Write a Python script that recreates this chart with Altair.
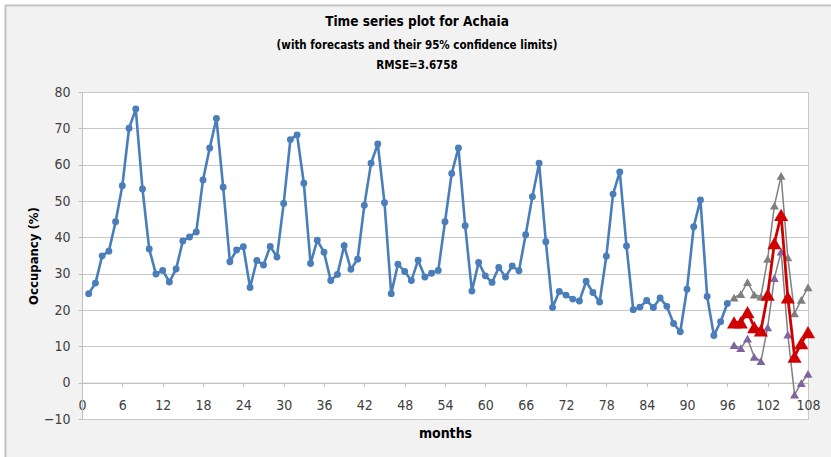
import altair as alt
import pandas as pd

# Observed monthly occupancy (%) for months 1..96
months_obs = list(range(1, 97))
occupancy = [
    24.5, 27.4, 34.9, 36.2, 44.3, 54.2, 70.0, 75.3, 53.3, 36.8, 29.9, 30.9,
    27.7, 31.3, 39.0, 40.1, 41.5, 55.8, 64.6, 72.7, 53.8, 33.3, 36.5, 37.4,
    26.2, 33.6, 32.4, 37.5, 34.6, 49.3, 66.9, 68.2, 54.9, 32.8, 39.2, 35.9,
    28.1, 29.8, 37.7, 31.2, 34.0, 48.8, 60.4, 65.7, 49.5, 24.5, 32.6, 30.6,
    28.1, 33.7, 29.1, 30.1, 30.9, 44.3, 57.6, 64.6, 43.2, 25.2, 33.1, 29.4,
    27.6, 31.7, 29.1, 32.1, 30.8, 40.7, 51.2, 60.4, 38.8, 20.7, 25.1, 24.1,
    23.0, 22.5, 27.9, 24.8, 22.2, 34.8, 51.9, 58.0, 37.6, 20.1, 20.8, 22.6,
    20.7, 23.3, 21.0, 16.3, 14.0, 25.7, 42.9, 50.3, 23.7, 13.0, 16.8, 21.8,
]

# Forecasts for months 97..108 with their 95% confidence limits
months_fc = list(range(97, 109))
forecast = [16.6, 16.6, 19.4, 15.3, 14.4, 24.2, 38.4, 46.2, 23.5, 7.2, 10.9, 13.9]
upper = [23.4, 24.4, 27.7, 24.2, 23.7, 34.1, 48.7, 56.9, 34.5, 19.1, 22.8, 26.2]
lower = [10.3, 9.5, 12.1, 7.1, 5.9, 15.2, 28.8, 36.1, 13.2, -3.3, -0.1, 2.4]

x_ticks = list(range(0, 109, 6))
y_ticks = list(range(-10, 81, 10))

title_lines = [
    "Time series plot for Achaia",
    "(with forecasts and their 95% confidence limits)",
    "RMSE=3.6758",
]

obs_df = pd.DataFrame({"month": months_obs, "value": occupancy})
fc_df = pd.DataFrame({"month": months_fc, "value": forecast})
up_df = pd.DataFrame({"month": months_fc, "value": upper})
lo_df = pd.DataFrame({"month": months_fc, "value": lower})

FONT = "Liberation Sans Narrow, Arial Narrow, DejaVu Sans Condensed, sans-serif"
W, H = 726, 327
PAD_L, PAD_T, PAD_R, PAD_B = 82, 92, 23, 38

x_enc = alt.X(
    "month:Q",
    scale=alt.Scale(domain=[0, 108], nice=False, zero=False),
    axis=alt.Axis(
        values=x_ticks, title="months", grid=False, offset=-36.33,
        tickSize=4, tickColor="#bfbfbf", domainColor="#bfbfbf",
        labelPadding=12, labelFontSize=14, labelColor="#404040", labelFont=FONT,
        titleFont=FONT, titleFontSize=14, titleFontWeight="bold", titleColor="#000000",
        titlePadding=14, labelFlush=False,
    ),
)
y_enc = alt.Y(
    "value:Q",
    scale=alt.Scale(domain=[-10, 80], nice=False, zero=False),
    axis=alt.Axis(
        values=y_ticks, title="Occupancy (%)", grid=True, gridColor="#c8c8c8",
        tickSize=4, tickColor="#bfbfbf", domainColor="#bfbfbf",
        labelPadding=8, labelFontSize=14, labelColor="#404040", labelFont=FONT,
        titleFont=FONT, titleFontSize=13, titleFontWeight="bold", titleColor="#000000",
        titlePadding=3,
    ),
)

observed = alt.Chart(obs_df).mark_line(
    color="#4a7ebb", strokeWidth=2.6,
    point=alt.OverlayMarkDef(shape="circle", size=48, filled=True, color="#4a7ebb"),
).encode(x=x_enc, y=y_enc)

upper_line = alt.Chart(up_df).mark_line(
    color="#808080", strokeWidth=1.5,
    point=alt.OverlayMarkDef(shape="triangle-up", size=80, filled=True, color="#7f7f7f"),
).encode(x=x_enc, y=y_enc)

lower_line = alt.Chart(lo_df).mark_line(
    color="#808080", strokeWidth=1.5,
    point=alt.OverlayMarkDef(shape="triangle-up", size=80, filled=True, color="#8064a2"),
).encode(x=x_enc, y=y_enc)

forecast_line = alt.Chart(fc_df).mark_line(
    color="#d00000", strokeWidth=2.8,
    point=alt.OverlayMarkDef(shape="triangle-up", size=200, filled=True, color="#d00000"),
).encode(x=x_enc, y=y_enc)

# Outer chart-area frame (white margin plus grey border on top and left)
one = alt.Data(values=[{}])
frame = [
    alt.Chart(one).mark_rule(color="#ffffff", strokeWidth=5).encode(
        x=alt.value(-PAD_L), x2=alt.value(W + PAD_R), y=alt.value(-PAD_T + 2)),
    alt.Chart(one).mark_rule(color="#ffffff", strokeWidth=5).encode(
        x=alt.value(-PAD_L + 2), y=alt.value(-PAD_T), y2=alt.value(H + PAD_B)),
    alt.Chart(one).mark_rule(color="#c4c4c4", strokeWidth=2).encode(
        x=alt.value(-PAD_L + 5), x2=alt.value(W + PAD_R), y=alt.value(-PAD_T + 5.5)),
    alt.Chart(one).mark_rule(color="#c4c4c4", strokeWidth=2).encode(
        x=alt.value(-PAD_L + 5.5), y=alt.value(-PAD_T + 5), y2=alt.value(H + PAD_B)),
]

# Chart title block, centred over the chart area
title_x = 417 - PAD_L
titles = [
    alt.Chart(alt.Data(values=[{"t": title_lines[0]}])).mark_text(
        font=FONT, fontSize=13.5, fontWeight="bold", color="#000000", baseline="middle",
    ).encode(text="t:N", x=alt.value(title_x), y=alt.value(22 - PAD_T)),
    alt.Chart(alt.Data(values=[{"t": title_lines[1]}])).mark_text(
        font=FONT, fontSize=11.5, fontWeight="bold", color="#000000", baseline="middle",
    ).encode(text="t:N", x=alt.value(title_x), y=alt.value(46 - PAD_T)),
    alt.Chart(alt.Data(values=[{"t": title_lines[2]}])).mark_text(
        font=FONT, fontSize=11.5, fontWeight="bold", color="#000000", baseline="middle",
    ).encode(text="t:N", x=alt.value(title_x), y=alt.value(66 - PAD_T)),
]

chart = alt.layer(
    *frame, *titles, observed, upper_line, lower_line, forecast_line,
).properties(
    width=W, height=H,
    autosize=alt.AutoSizeParams(type="none"),
    padding={"left": PAD_L, "top": PAD_T, "right": PAD_R, "bottom": PAD_B},
    background="#f2f2f2",
).configure_view(
    fill="#ffffff", stroke="#c8c8c8",
)

chart.save("out.html", embed_options={"renderer": "svg", "actions": False})
